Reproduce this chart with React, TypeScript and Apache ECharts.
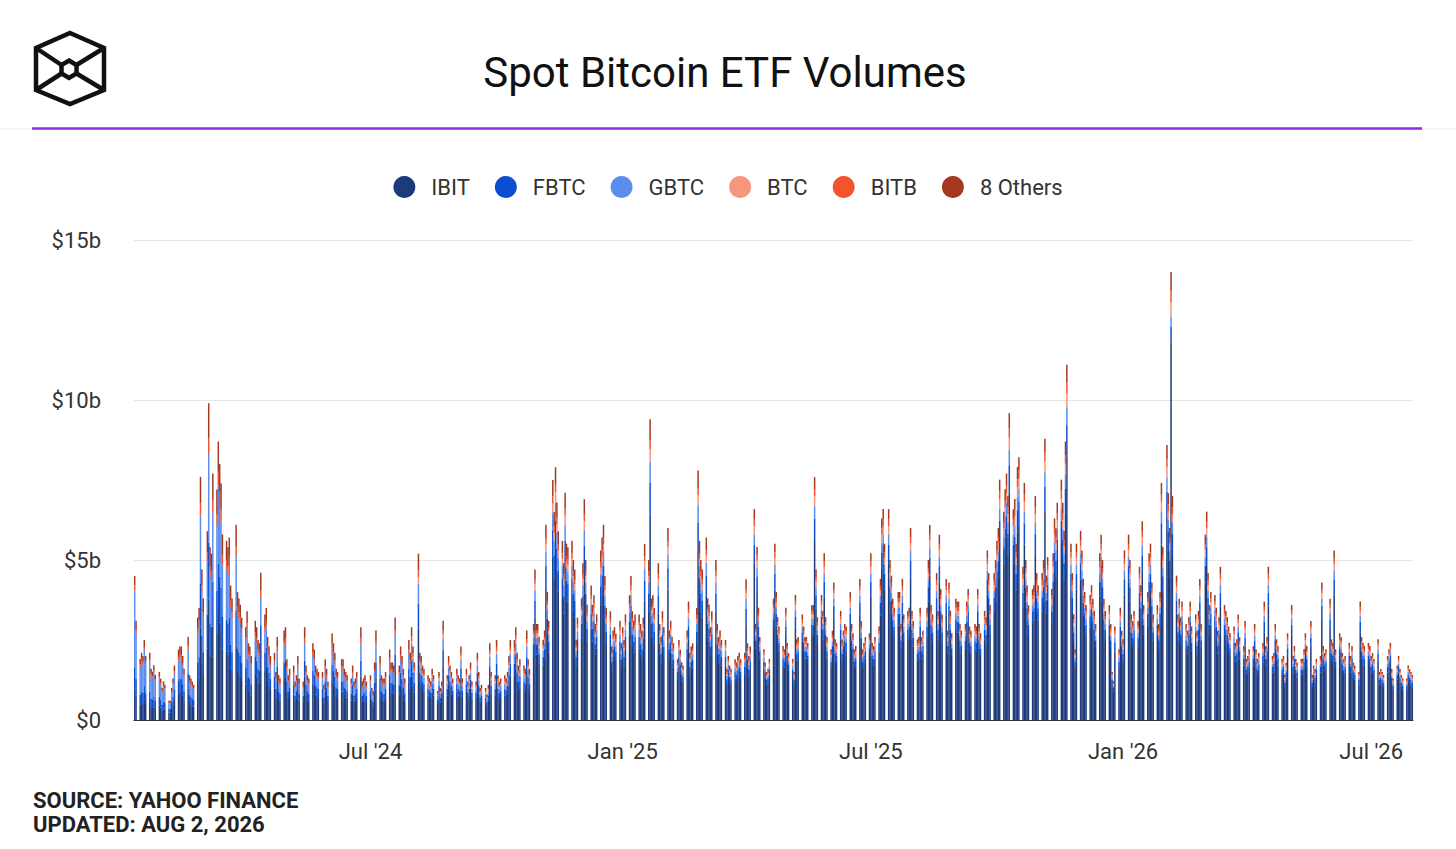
import React, { useEffect, useRef } from "react";
import * as echarts from "echarts";

// ---------- DATA (daily volumes, $ millions) ----------
// values are given for every weekday from 2024-01-11 to 2026-07-31
const FIRST_DAY = "2024-01-11";
const LAST_DAY = "2026-07-31";

const seriesNames = ["IBIT", "FBTC", "GBTC", "BTC", "BITB", "8 Others"];
const seriesColors = ["#1d3b7b", "#0b4fd0", "#5b8dee", "#f7967f", "#f4532c", "#a5381f"];

const yTicks = [0, 5000, 10000, 15000];
const xTickDates = ["2024-07-01", "2025-01-01", "2025-07-01", "2026-01-01", "2026-07-01"];
const xTickLabels = ["Jul '24", "Jan '25", "Jul '25", "Jan '26", "Jul '26"];

const IBIT = [
950, 770,
480, 530, 500, 630, 500,
530, 400, 380, 430, 350,
450, 390, 300, 360, 330,
230, 230, 380, 490, 650,
840, 870, 870, 760, 610,
990, 530, 490, 460, 420,
1220, 1330, 2890, 1790, 1440,
2240, 3760, 2050, 1980, 2930,
2740, 3310, 3040, 2810, 2200,
2130, 2050, 2170, 1600, 1440,
2320, 1520, 1440, 1370, 1220,
1100, 1290, 910, 870, 760,
1460, 1360, 1180, 1130, 2160,
1550, 1650, 1220, 1080, 940,
990, 710, 1220, 660, 610,
1320, 1360, 890, 660, 750,
800, 560, 660, 940, 610,
560, 1360, 800, 660, 610,
1130, 1030, 800, 750, 710,
710, 520, 890, 750, 560,
1270, 1130, 990, 750, 710,
890, 890, 750, 710, 660,
610, 800, 560, 610, 710,
1360, 560, 610, 660, 560,
660, 470, 420, 850, 1320,
940, 660, 610, 610, 710,
1030, 850, 850, 800, 1500,
800, 1080, 940, 750, 610,
1180, 990, 1360, 1080, 850,
2860, 1160, 1100, 940, 880,
770, 720, 660, 880, 770,
500, 830, 550, 660, 1710,
770, 1100, 940, 830, 720,
880, 770, 720, 1270, 720,
880, 660, 770, 990, 660,
660, 1160, 830, 550, 600,
550, 440, 600, 1320, 830,
770, 1380, 770, 660, 720,
770, 720, 830, 1100, 1380,
1380, 1600, 1160, 940, 1050,
940, 880, 1540, 1050, 880,
2040, 3200, 2040, 2040, 1770,
1700, 1900, 4150, 2720, 2110,
5100, 4420, 5370, 4620, 4010,
3810, 3330, 4830, 3740, 3670,
3810, 3400, 3200, 1700, 2180,
2580, 3330, 4690, 3400, 2450,
2860, 2450, 2650, 2040, 2240,
3600, 3880, 4150, 3060, 2380,
2310, 1560, 1900, 1970, 1840,
2110, 1630, 1970, 1700, 2240,
2650, 3060, 2310, 2110, 2240,
2240, 2040, 1900, 2180, 3740,
3400, 6390, 2580, 2650, 2380,
3330, 2040, 1770, 2310, 1970,
4080, 1900, 2110, 1770, 1630,
1290, 1700, 1500, 1220, 1160,
1900, 2520, 1430, 1560, 1630,
2380, 5300, 3810, 3400, 3200,
3880, 2580, 2450, 1970, 2310,
3400, 2040, 1770, 1900, 1700,
1700, 1090, 1360, 1160, 1090,
1290, 1220, 1360, 1430, 1290,
1430, 2990, 1630, 1360, 1560,
4880, 2220, 4000, 2590, 1920,
1630, 1330, 1110, 1180, 1410,
2810, 4070, 2960, 2370, 2150,
1700, 1630, 2590, 1780, 1550,
1410, 1110, 2890, 1850, 1920,
2440, 2150, 1920, 1920, 1780,
2660, 2660, 5620, 3480, 2370,
2890, 2520, 3850, 2370, 1920,
1630, 2070, 3180, 1850, 1780,
2520, 1850, 2070, 2220, 2150,
2960, 2220, 2000, 1630, 1700,
3260, 2290, 1630, 1780, 1920,
2000, 3850, 1780, 1700, 1920,
2150, 3260, 4660, 4880, 4070,
4880, 3700, 3330, 2810, 2590,
2960, 2960, 2220, 3260, 2440,
2520, 2590, 4440, 2520, 2290,
1850, 1920, 2590, 1920, 2070,
2590, 3700, 4510, 2660, 2440,
3400, 2520, 4290, 3030, 2440,
3260, 2070, 3180, 2520, 2000,
2810, 2740, 2740, 2220, 2070,
2220, 2740, 3030, 2150, 2070,
2220, 2150, 3030, 2220, 2000,
2520, 2370, 3920, 3400, 2660,
3400, 3700, 4140, 4440, 5550,
4810, 5330, 5700, 5180, 7100,
4880, 5110, 4070, 5850, 6070,
3550, 5480, 3700, 3110, 2660,
3030, 3110, 5180, 3400, 3110,
3400, 3700, 6510, 3330, 3770,
3030, 3850, 4660, 4440, 5030,
5550, 5030, 4370, 6440, 8210,
4070, 3400, 2440, 1630, 4070,
4370, 3920, 3260, 2960, 2660,
2890, 3110, 2810, 2520, 2220,
3850, 4290, 3700, 2810, 2520,
2660, 2220, 1110, 890, 2150,
1630, 2590, 2070, 1850, 3920,
4290, 3700, 2440, 2290, 2520,
2290, 3550, 3110, 4590, 2660,
2960, 3850, 4070, 3180, 2440,
2660, 2220, 2960, 5480, 4000,
6360, 5250, 4440, 11800, 5180,
3330, 2440, 2810, 2370, 2740,
2220, 2070, 2370, 2740, 2150,
2440, 2070, 2520, 3260, 2220,
4290, 4810, 3400, 2660, 2960,
2890, 2590, 2070, 2370, 3550,
2660, 2520, 2370, 2150, 2000,
2150, 1780, 1850, 2440, 1920,
1700, 2290, 1410, 1480, 1630,
1700, 2220, 1630, 1410, 1550,
1780, 2740, 1700, 1920, 3550,
1480, 1550, 2220, 1850, 1700,
1410, 1480, 1040, 1330, 2000,
2660, 1480, 1700, 1410, 1330,
1410, 1410, 1630, 2000, 1700,
2290, 1040, 1260, 1180, 1410,
1480, 3180, 1700, 1550, 1630,
2810, 1850, 1780, 3920, 1630,
2000, 1920, 1550, 1410, 1480,
1780, 1480, 1700, 1330, 1260,
1110, 2740, 1920, 1780, 1700,
1780, 1700, 1480, 1550, 1410,
1850, 1110, 1180, 1110, 1040,
1480, 1630, 1780, 1180, 960,
1260, 1480, 1180, 1040, 960,
960, 1260, 1180, 1110, 1040,
];

const FBTC = [
700, 520,
320, 360, 340, 430, 340,
360, 270, 260, 290, 240,
270, 230, 180, 220, 200,
110, 110, 180, 230, 310,
400, 410, 410, 360, 290,
470, 250, 230, 220, 200,
580, 630, 1370, 850, 680,
1060, 1780, 970, 940, 1390,
1300, 1570, 1440, 1330, 1040,
1010, 970, 1030, 760, 680,
1100, 720, 680, 650, 580,
520, 610, 430, 410, 360,
530, 490, 430, 410, 780,
560, 600, 440, 390, 340,
360, 260, 440, 240, 220,
480, 490, 320, 240, 270,
290, 200, 240, 340, 220,
200, 490, 290, 240, 220,
410, 370, 290, 270, 260,
260, 190, 320, 270, 200,
460, 410, 360, 270, 260,
320, 320, 270, 260, 240,
220, 290, 200, 220, 260,
490, 200, 220, 240, 200,
240, 170, 150, 310, 480,
340, 240, 220, 220, 260,
370, 310, 310, 290, 540,
290, 390, 340, 270, 220,
430, 360, 490, 390, 310,
780, 320, 300, 260, 240,
210, 200, 180, 240, 210,
140, 230, 150, 180, 470,
210, 300, 260, 230, 200,
240, 210, 200, 350, 200,
240, 180, 210, 270, 180,
180, 320, 230, 150, 170,
150, 120, 170, 360, 230,
210, 380, 210, 180, 200,
210, 200, 230, 300, 380,
380, 440, 320, 260, 290,
260, 240, 420, 290, 240,
330, 520, 330, 330, 290,
280, 310, 670, 440, 340,
830, 720, 870, 750, 650,
620, 540, 780, 610, 590,
620, 550, 520, 280, 350,
420, 540, 760, 550, 400,
460, 400, 430, 330, 360,
580, 630, 670, 500, 390,
370, 250, 310, 320, 300,
340, 260, 320, 280, 360,
430, 500, 370, 340, 360,
360, 330, 310, 350, 610,
550, 1030, 420, 430, 390,
540, 330, 290, 370, 320,
660, 310, 340, 290, 260,
210, 280, 240, 200, 190,
310, 410, 230, 250, 260,
390, 860, 620, 550, 520,
630, 420, 400, 320, 370,
550, 330, 290, 310, 280,
280, 180, 220, 190, 180,
210, 200, 220, 230, 210,
230, 480, 260, 220, 250,
590, 270, 490, 320, 230,
200, 160, 140, 140, 170,
340, 500, 360, 290, 260,
210, 200, 320, 220, 190,
170, 140, 350, 230, 230,
300, 260, 230, 230, 220,
320, 320, 680, 420, 290,
350, 310, 470, 290, 230,
200, 250, 390, 230, 220,
310, 230, 250, 270, 260,
360, 270, 240, 200, 210,
400, 280, 200, 220, 230,
240, 470, 220, 210, 230,
260, 400, 570, 590, 500,
590, 450, 410, 340, 320,
360, 360, 270, 400, 300,
310, 320, 540, 310, 280,
230, 230, 320, 230, 250,
320, 450, 550, 320, 300,
410, 310, 520, 370, 300,
400, 250, 390, 310, 240,
340, 330, 330, 270, 250,
270, 330, 370, 260, 250,
270, 260, 370, 270, 240,
310, 290, 480, 410, 320,
410, 450, 500, 540, 680,
590, 650, 690, 630, 860,
590, 620, 500, 710, 740,
430, 670, 450, 380, 320,
370, 380, 630, 410, 380,
410, 450, 790, 410, 460,
370, 470, 570, 540, 610,
680, 610, 530, 780, 1000,
500, 410, 300, 200, 500,
530, 480, 400, 360, 320,
350, 380, 340, 310, 270,
470, 520, 450, 340, 310,
320, 270, 140, 110, 260,
200, 320, 250, 230, 480,
520, 450, 300, 280, 310,
280, 430, 380, 560, 320,
360, 470, 500, 390, 300,
320, 270, 360, 670, 490,
770, 640, 540, 500, 630,
410, 300, 340, 290, 330,
270, 250, 290, 330, 260,
300, 250, 310, 400, 270,
520, 590, 410, 320, 360,
350, 320, 250, 290, 430,
320, 310, 290, 260, 240,
260, 220, 230, 300, 230,
210, 280, 170, 180, 200,
210, 270, 200, 170, 190,
220, 330, 210, 230, 430,
180, 190, 270, 230, 210,
170, 180, 130, 160, 240,
320, 180, 210, 170, 160,
170, 170, 200, 240, 210,
280, 130, 150, 140, 170,
180, 390, 210, 190, 200,
340, 230, 220, 480, 200,
240, 230, 190, 170, 180,
220, 180, 210, 160, 150,
140, 330, 230, 220, 210,
220, 210, 180, 190, 170,
230, 140, 140, 140, 130,
180, 200, 220, 140, 120,
150, 180, 140, 130, 120,
120, 150, 140, 140, 130,
];

const GBTC = [
2400, 1400,
860, 940, 900, 1120, 900,
940, 720, 680, 770, 630,
570, 490, 380, 460, 420,
170, 170, 280, 360, 480,
620, 640, 640, 560, 450,
730, 390, 360, 340, 310,
900, 980, 2130, 1320, 1060,
1650, 2770, 1510, 1460, 2160,
2020, 2440, 2240, 2070, 1620,
1570, 1510, 1600, 1180, 1060,
1710, 1120, 1060, 1010, 900,
810, 950, 670, 640, 560,
590, 550, 480, 460, 870,
630, 670, 490, 440, 380,
400, 290, 490, 270, 250,
530, 550, 360, 270, 300,
320, 230, 270, 380, 250,
230, 550, 320, 270, 250,
460, 420, 320, 300, 290,
290, 210, 360, 300, 230,
510, 460, 400, 300, 290,
360, 360, 300, 290, 270,
250, 320, 230, 250, 290,
550, 230, 250, 270, 230,
270, 190, 170, 340, 530,
380, 270, 250, 250, 290,
420, 340, 340, 320, 610,
320, 440, 380, 300, 250,
480, 400, 550, 440, 340,
620, 250, 240, 200, 190,
170, 160, 140, 190, 170,
110, 180, 120, 140, 370,
170, 240, 200, 180, 160,
190, 170, 160, 280, 160,
190, 140, 170, 220, 140,
140, 250, 180, 120, 130,
120, 100, 130, 290, 180,
170, 300, 170, 140, 160,
170, 160, 180, 240, 300,
300, 350, 250, 200, 230,
200, 190, 340, 230, 190,
210, 330, 210, 210, 180,
180, 200, 430, 280, 220,
530, 460, 550, 480, 410,
390, 340, 500, 390, 380,
390, 350, 330, 180, 220,
270, 340, 480, 350, 250,
290, 250, 270, 210, 230,
370, 400, 430, 320, 250,
240, 160, 200, 200, 190,
220, 170, 200, 180, 230,
270, 320, 240, 220, 230,
230, 210, 200, 220, 390,
350, 660, 270, 270, 250,
340, 210, 180, 240, 200,
420, 200, 220, 180, 170,
130, 180, 150, 130, 120,
200, 260, 150, 160, 170,
250, 550, 390, 350, 330,
400, 270, 250, 200, 240,
350, 210, 180, 200, 180,
180, 110, 140, 120, 110,
130, 130, 140, 150, 130,
150, 310, 170, 140, 160,
330, 150, 270, 180, 130,
110, 90, 80, 80, 100,
190, 280, 200, 160, 150,
120, 110, 180, 120, 110,
100, 80, 200, 130, 130,
170, 150, 130, 130, 120,
180, 180, 380, 240, 160,
200, 170, 260, 160, 130,
110, 140, 220, 130, 120,
170, 130, 140, 150, 150,
200, 150, 140, 110, 120,
220, 160, 110, 120, 130,
140, 260, 120, 120, 130,
150, 220, 320, 330, 280,
330, 250, 230, 190, 180,
200, 200, 150, 220, 170,
170, 180, 300, 170, 160,
130, 130, 180, 130, 140,
180, 250, 310, 180, 170,
230, 170, 290, 210, 170,
220, 140, 220, 170, 140,
190, 190, 190, 150, 140,
150, 190, 210, 150, 140,
150, 150, 210, 150, 140,
170, 160, 270, 230, 180,
230, 250, 280, 300, 380,
330, 360, 390, 350, 480,
330, 350, 280, 400, 410,
240, 370, 250, 210, 180,
210, 210, 350, 230, 210,
230, 250, 440, 230, 260,
210, 260, 320, 300, 340,
380, 340, 300, 440, 560,
280, 230, 170, 110, 280,
300, 270, 220, 200, 180,
200, 210, 190, 170, 150,
260, 290, 250, 190, 170,
180, 150, 80, 60, 150,
110, 180, 140, 130, 270,
290, 250, 170, 160, 170,
160, 240, 210, 310, 180,
200, 260, 280, 220, 170,
180, 150, 200, 370, 270,
430, 360, 300, 300, 350,
230, 170, 190, 160, 190,
150, 140, 160, 190, 150,
170, 140, 170, 220, 150,
290, 330, 230, 180, 200,
200, 180, 140, 160, 240,
180, 170, 160, 150, 140,
150, 120, 130, 170, 130,
120, 160, 100, 100, 110,
120, 150, 110, 100, 110,
120, 190, 120, 130, 240,
100, 110, 150, 130, 120,
100, 100, 70, 90, 140,
180, 100, 120, 100, 90,
100, 100, 110, 140, 120,
160, 70, 90, 80, 100,
100, 220, 120, 110, 110,
190, 130, 120, 270, 110,
140, 130, 110, 100, 100,
120, 100, 120, 90, 90,
80, 190, 130, 120, 120,
120, 120, 100, 110, 100,
130, 80, 80, 80, 70,
100, 110, 120, 80, 70,
90, 100, 80, 70, 70,
70, 90, 80, 80, 70,
];

const BTC = [
0, 0,
0, 0, 0, 0, 0,
0, 0, 0, 0, 0,
0, 0, 0, 0, 0,
0, 0, 0, 0, 0,
0, 0, 0, 0, 0,
0, 0, 0, 0, 0,
0, 0, 0, 0, 0,
0, 0, 0, 0, 0,
0, 0, 0, 0, 0,
0, 0, 0, 0, 0,
0, 0, 0, 0, 0,
0, 0, 0, 0, 0,
0, 0, 0, 0, 0,
0, 0, 0, 0, 0,
0, 0, 0, 0, 0,
0, 0, 0, 0, 0,
0, 0, 0, 0, 0,
0, 0, 0, 0, 0,
0, 0, 0, 0, 0,
0, 0, 0, 0, 0,
0, 0, 0, 0, 0,
0, 0, 0, 0, 0,
0, 0, 0, 0, 0,
0, 0, 0, 0, 0,
0, 0, 0, 0, 0,
0, 0, 0, 0, 0,
0, 0, 0, 0, 0,
0, 0, 0, 0, 0,
0, 0, 60, 50, 40,
210, 80, 80, 70, 60,
60, 50, 50, 60, 60,
40, 60, 40, 50, 120,
60, 80, 70, 60, 50,
60, 60, 50, 90, 50,
60, 50, 60, 70, 50,
50, 80, 60, 40, 40,
40, 30, 40, 100, 60,
60, 100, 60, 50, 50,
60, 50, 60, 80, 100,
100, 120, 80, 70, 80,
70, 60, 110, 80, 60,
120, 190, 120, 120, 100,
100, 110, 240, 160, 120,
300, 260, 320, 270, 240,
220, 200, 280, 220, 220,
220, 200, 190, 100, 130,
150, 200, 280, 200, 140,
170, 140, 160, 120, 130,
210, 230, 240, 180, 140,
140, 90, 110, 120, 110,
120, 100, 120, 100, 130,
160, 180, 140, 120, 130,
130, 120, 110, 130, 220,
200, 380, 150, 160, 140,
200, 120, 100, 140, 120,
240, 110, 120, 100, 100,
80, 100, 90, 70, 70,
110, 150, 80, 90, 100,
140, 310, 220, 200, 190,
230, 150, 140, 120, 140,
200, 120, 100, 110, 100,
100, 60, 80, 70, 60,
80, 70, 80, 80, 80,
80, 180, 100, 80, 90,
260, 120, 220, 140, 100,
90, 70, 60, 60, 80,
150, 220, 160, 130, 120,
90, 90, 140, 100, 80,
80, 60, 160, 100, 100,
130, 120, 100, 100, 100,
140, 140, 300, 190, 130,
160, 140, 210, 130, 100,
90, 110, 170, 100, 100,
140, 100, 110, 120, 120,
160, 120, 110, 90, 90,
180, 120, 90, 100, 100,
110, 210, 100, 90, 100,
120, 180, 250, 260, 220,
260, 200, 180, 150, 140,
160, 160, 120, 180, 130,
140, 140, 240, 140, 120,
100, 100, 140, 100, 110,
140, 200, 240, 140, 130,
180, 140, 230, 160, 130,
180, 110, 170, 140, 110,
150, 150, 150, 120, 110,
120, 150, 160, 120, 110,
120, 120, 160, 120, 110,
140, 130, 210, 180, 140,
180, 200, 220, 240, 300,
260, 290, 310, 280, 380,
260, 280, 220, 320, 330,
190, 300, 200, 170, 140,
160, 170, 280, 180, 170,
180, 200, 350, 180, 200,
160, 210, 250, 240, 270,
300, 270, 240, 350, 440,
220, 180, 130, 90, 220,
240, 210, 180, 160, 140,
160, 170, 150, 140, 120,
210, 230, 200, 150, 140,
140, 120, 60, 50, 120,
90, 140, 110, 100, 210,
230, 200, 130, 120, 140,
120, 190, 170, 250, 140,
160, 210, 220, 170, 130,
140, 120, 160, 300, 220,
340, 280, 240, 450, 280,
180, 130, 150, 130, 150,
120, 110, 130, 150, 120,
130, 110, 140, 180, 120,
230, 260, 180, 140, 160,
160, 140, 110, 130, 190,
140, 140, 130, 120, 110,
120, 100, 100, 130, 100,
90, 120, 80, 80, 90,
90, 120, 90, 80, 80,
100, 150, 90, 100, 190,
80, 80, 120, 100, 90,
80, 80, 60, 70, 110,
140, 80, 90, 80, 70,
80, 80, 90, 110, 90,
120, 60, 70, 60, 80,
80, 170, 90, 80, 90,
150, 100, 100, 210, 90,
110, 100, 80, 80, 80,
100, 80, 90, 70, 70,
60, 150, 100, 100, 90,
100, 90, 80, 80, 80,
100, 60, 60, 60, 60,
80, 90, 100, 60, 50,
70, 80, 60, 60, 50,
50, 70, 60, 60, 60,
];

const BITB = [
150, 120,
80, 80, 80, 100, 80,
80, 60, 60, 70, 60,
60, 50, 40, 50, 40,
30, 30, 50, 70, 80,
110, 120, 120, 100, 80,
130, 70, 70, 60, 60,
160, 180, 380, 240, 190,
300, 500, 270, 260, 390,
360, 440, 400, 370, 290,
280, 270, 290, 210, 190,
310, 200, 190, 180, 160,
150, 170, 120, 120, 100,
160, 150, 130, 120, 230,
170, 180, 130, 120, 100,
110, 80, 130, 70, 70,
140, 150, 100, 70, 80,
90, 60, 70, 100, 70,
60, 150, 90, 70, 70,
120, 110, 90, 80, 70,
70, 50, 100, 80, 60,
140, 120, 110, 80, 70,
100, 100, 80, 70, 70,
70, 90, 60, 70, 70,
150, 60, 70, 70, 60,
70, 50, 50, 90, 140,
100, 70, 70, 70, 70,
110, 90, 90, 90, 160,
90, 120, 100, 80, 70,
130, 110, 150, 120, 90,
210, 80, 80, 70, 60,
60, 50, 50, 60, 60,
40, 60, 40, 50, 120,
60, 80, 70, 60, 50,
60, 60, 50, 90, 50,
60, 50, 60, 70, 50,
50, 80, 60, 40, 40,
40, 30, 40, 100, 60,
60, 100, 60, 50, 50,
60, 50, 60, 80, 100,
100, 120, 80, 70, 80,
70, 60, 110, 80, 60,
90, 140, 90, 90, 80,
80, 80, 180, 120, 90,
230, 200, 240, 200, 180,
170, 150, 210, 170, 160,
170, 150, 140, 80, 100,
110, 150, 210, 150, 110,
130, 110, 120, 90, 100,
160, 170, 180, 140, 110,
100, 70, 80, 90, 80,
90, 70, 90, 80, 100,
120, 140, 100, 90, 100,
100, 90, 80, 100, 160,
150, 280, 110, 120, 100,
150, 90, 80, 100, 90,
180, 80, 90, 80, 70,
60, 70, 70, 50, 50,
80, 110, 60, 70, 70,
110, 230, 170, 150, 140,
170, 110, 110, 90, 100,
150, 90, 80, 80, 80,
80, 50, 60, 50, 50,
60, 50, 60, 60, 60,
60, 130, 70, 60, 70,
200, 90, 160, 110, 80,
70, 50, 40, 50, 60,
110, 170, 120, 100, 90,
70, 70, 110, 70, 60,
60, 40, 120, 80, 80,
100, 90, 80, 80, 70,
110, 110, 230, 140, 100,
120, 100, 160, 100, 80,
70, 80, 130, 80, 70,
100, 80, 80, 90, 90,
120, 90, 80, 70, 70,
130, 90, 70, 70, 80,
80, 160, 70, 70, 80,
90, 130, 190, 200, 170,
200, 150, 140, 110, 110,
120, 120, 90, 130, 100,
100, 110, 180, 100, 90,
80, 80, 110, 80, 80,
110, 150, 180, 110, 100,
140, 100, 170, 120, 100,
130, 80, 130, 100, 80,
110, 110, 110, 90, 80,
90, 110, 120, 90, 80,
90, 90, 120, 90, 80,
100, 100, 160, 140, 110,
140, 150, 170, 180, 230,
200, 220, 230, 210, 290,
200, 210, 170, 240, 250,
140, 220, 150, 130, 110,
120, 130, 210, 140, 130,
140, 150, 260, 140, 150,
120, 160, 190, 180, 200,
230, 200, 180, 260, 330,
170, 140, 100, 70, 170,
180, 160, 130, 120, 110,
120, 130, 110, 100, 90,
160, 170, 150, 110, 100,
110, 90, 40, 40, 90,
70, 110, 80, 80, 160,
170, 150, 100, 90, 100,
90, 140, 130, 190, 110,
120, 160, 170, 130, 100,
110, 90, 120, 220, 160,
260, 210, 180, 350, 210,
140, 100, 110, 100, 110,
90, 80, 100, 110, 90,
100, 80, 100, 130, 90,
170, 200, 140, 110, 120,
120, 110, 80, 100, 140,
110, 100, 100, 90, 80,
90, 70, 80, 100, 80,
70, 90, 60, 60, 70,
70, 90, 70, 60, 60,
70, 110, 70, 80, 140,
60, 60, 90, 80, 70,
60, 60, 40, 50, 80,
110, 60, 70, 60, 50,
60, 60, 70, 80, 70,
90, 40, 50, 50, 60,
60, 130, 70, 60, 70,
110, 80, 70, 160, 70,
80, 80, 60, 60, 60,
70, 60, 70, 50, 50,
40, 110, 80, 70, 70,
70, 70, 60, 60, 60,
80, 40, 50, 40, 40,
60, 70, 70, 50, 40,
50, 60, 50, 40, 40,
40, 50, 50, 40, 40,
];

const OTHERS = [
300, 290,
170, 190, 180, 220, 180,
190, 150, 130, 150, 130,
150, 130, 100, 120, 110,
60, 60, 110, 150, 180,
230, 260, 260, 220, 170,
280, 160, 150, 120, 110,
340, 380, 830, 500, 430,
650, 1090, 600, 560, 830,
780, 940, 880, 820, 650,
610, 600, 610, 450, 430,
660, 440, 430, 390, 340,
320, 380, 270, 260, 220,
360, 350, 280, 280, 560,
390, 400, 320, 270, 240,
240, 160, 320, 160, 150,
330, 350, 230, 160, 200,
200, 150, 160, 240, 150,
150, 350, 200, 160, 150,
280, 270, 200, 200, 170,
170, 130, 230, 200, 150,
320, 280, 240, 200, 170,
230, 230, 200, 170, 160,
150, 200, 150, 150, 170,
350, 150, 150, 160, 150,
160, 120, 110, 210, 330,
240, 160, 150, 150, 170,
270, 210, 210, 200, 390,
200, 270, 240, 200, 150,
280, 240, 290, 220, 170,
520, 210, 200, 160, 170,
130, 120, 120, 170, 130,
70, 140, 100, 120, 310,
130, 200, 160, 140, 120,
170, 130, 120, 220, 120,
170, 120, 130, 180, 120,
120, 210, 140, 100, 120,
100, 80, 120, 230, 140,
130, 240, 130, 120, 120,
130, 120, 140, 200, 240,
240, 270, 210, 160, 170,
160, 170, 280, 170, 170,
210, 320, 210, 210, 180,
170, 200, 430, 280, 220,
510, 440, 550, 480, 410,
390, 340, 500, 380, 380,
390, 350, 320, 160, 220,
270, 340, 480, 350, 250,
290, 250, 270, 210, 240,
380, 390, 430, 300, 230,
240, 170, 200, 200, 180,
220, 170, 200, 160, 240,
270, 300, 240, 220, 240,
240, 210, 200, 220, 380,
350, 660, 270, 270, 240,
340, 210, 180, 240, 200,
420, 200, 220, 180, 170,
130, 170, 150, 130, 110,
200, 250, 150, 170, 170,
230, 550, 390, 350, 320,
390, 270, 250, 200, 240,
350, 210, 180, 200, 160,
160, 110, 140, 110, 110,
130, 130, 140, 150, 130,
150, 310, 170, 140, 170,
330, 150, 270, 170, 130,
110, 90, 70, 80, 90,
190, 270, 200, 160, 150,
120, 110, 170, 120, 100,
90, 70, 190, 130, 130,
160, 150, 130, 130, 120,
180, 180, 380, 230, 160,
190, 170, 260, 160, 130,
110, 140, 210, 130, 120,
170, 130, 140, 150, 150,
200, 150, 140, 110, 120,
220, 150, 110, 120, 130,
140, 260, 120, 120, 130,
150, 220, 310, 330, 270,
330, 250, 220, 190, 170,
200, 200, 150, 220, 160,
170, 170, 300, 170, 150,
130, 130, 170, 130, 140,
170, 250, 300, 180, 160,
230, 170, 290, 200, 160,
220, 140, 210, 170, 140,
190, 180, 180, 150, 140,
150, 180, 200, 150, 140,
150, 150, 200, 150, 140,
170, 160, 260, 230, 180,
230, 250, 280, 300, 370,
320, 360, 380, 350, 480,
330, 340, 270, 390, 410,
240, 370, 250, 210, 180,
200, 210, 350, 230, 210,
230, 250, 440, 220, 250,
200, 260, 310, 300, 340,
370, 340, 290, 430, 560,
270, 230, 160, 110, 270,
290, 260, 220, 200, 180,
190, 210, 190, 170, 150,
260, 290, 250, 190, 170,
180, 150, 70, 60, 150,
110, 170, 140, 130, 260,
290, 250, 160, 150, 170,
150, 240, 210, 310, 180,
200, 260, 270, 210, 160,
180, 150, 200, 370, 270,
430, 350, 300, 600, 350,
220, 160, 190, 160, 180,
150, 140, 160, 180, 150,
160, 140, 170, 220, 150,
290, 320, 230, 180, 200,
190, 170, 140, 160, 240,
180, 170, 160, 150, 140,
150, 120, 130, 160, 130,
120, 150, 90, 100, 110,
120, 150, 110, 90, 100,
120, 180, 120, 130, 240,
100, 100, 150, 130, 120,
90, 100, 70, 90, 140,
180, 100, 120, 90, 90,
90, 90, 110, 140, 120,
150, 70, 80, 80, 90,
100, 210, 120, 100, 110,
190, 130, 120, 260, 110,
140, 130, 100, 90, 100,
120, 100, 120, 90, 80,
70, 180, 130, 120, 120,
120, 120, 100, 100, 90,
130, 70, 80, 70, 70,
100, 110, 120, 80, 60,
80, 100, 80, 70, 60,
60, 80, 80, 70, 70,
];

const seriesValues = [IBIT, FBTC, GBTC, BTC, BITB, OTHERS];

// ---------- helpers ----------
const DAY = 86400000;
function utc(s: string) {
  const [y, m, d] = s.split("-").map(Number);
  return Date.UTC(y, m - 1, d);
}
function iso(t: number) {
  return new Date(t).toISOString().slice(0, 10);
}
// every calendar day (category axis) and a flag for weekdays
function calendar(): { day: string; weekday: boolean }[] {
  const out: { day: string; weekday: boolean }[] = [];
  for (let t = utc(FIRST_DAY); t <= utc(LAST_DAY); t += DAY) {
    const wd = new Date(t).getUTCDay();
    out.push({ day: iso(t), weekday: wd !== 0 && wd !== 6 });
  }
  return out;
}

const FONT = "Roboto, 'Noto Sans', sans-serif";

export default function App() {
  const ref = useRef<HTMLDivElement>(null);

  useEffect(() => {
    if (!ref.current) return;
    const chart = echarts.init(ref.current, undefined, { renderer: "svg" });
    const cal = calendar();
    const categories = cal.map((c) => c.day);

    const series = seriesNames.map((name, k) => {
      const vals = seriesValues[k];
      let j = 0;
      const data = cal.map((c) => (c.weekday ? vals[j++] ?? 0 : "-"));
      return {
        name,
        type: "bar",
        stack: "vol",
        barWidth: 1.5,
        itemStyle: { color: seriesColors[k] },
        emphasis: { disabled: true },
        data,
      };
    });

    const st = { stroke: "#111", lineWidth: 4.5, fill: "none", lineJoin: "miter" };

    chart.setOption({
      animation: false,
      backgroundColor: "#ffffff",
      textStyle: { fontFamily: FONT },
      legend: {
        left: "center",
        top: 171,
        icon: "circle",
        itemWidth: 22,
        itemHeight: 22,
        itemGap: 25,
        selectedMode: false,
        data: seriesNames,
        textStyle: { fontSize: 22, color: "#333", fontFamily: FONT, padding: [0, 0, 0, 11] },
      },
      grid: { left: 134, right: 43, top: 240, bottom: 129, containLabel: false },
      xAxis: {
        type: "category",
        data: categories,
        boundaryGap: true,
        axisLine: { show: true, lineStyle: { color: "#333", width: 1.2 } },
        axisTick: { show: false },
        splitLine: { show: false },
        axisLabel: {
          interval: (_i: number, v: string) => xTickDates.includes(v),
          fontSize: 22,
          color: "#333",
          fontFamily: FONT,
          margin: 20,
          formatter: (v: string) => {
            const i = xTickDates.indexOf(v);
            return i >= 0 ? xTickLabels[i] : "";
          },
        },
      },
      yAxis: {
        type: "value",
        min: yTicks[0],
        max: yTicks[yTicks.length - 1],
        interval: 5000,
        axisLine: { show: false },
        axisTick: { show: false },
        splitLine: { show: true, lineStyle: { color: "#e6e6e6", width: 1 } },
        axisLabel: {
          fontSize: 22,
          color: "#333",
          fontFamily: FONT,
          margin: 33,
          formatter: (v: number) => (v === 0 ? "$0" : `$${v / 1000}b`),
        },
      },
      graphic: [
        { type: "line", shape: { x1: 0, y1: 129, x2: 1456, y2: 129 }, style: { stroke: "#ececec", lineWidth: 1 } },
        { type: "line", shape: { x1: 32, y1: 128.5, x2: 1422, y2: 128.5 }, style: { stroke: "#8d2fe0", lineWidth: 2.5 } },
        { type: "polygon", shape: { points: [[70, 33], [104, 48], [104, 90], [70, 104], [36, 90], [36, 48]] }, style: st },
        { type: "polygon", shape: { points: [[69, 60.5], [76.5, 65], [76.5, 73.5], [69, 78], [61.5, 73.5], [61.5, 65]] }, style: st },
        { type: "line", shape: { x1: 36, y1: 48, x2: 61.5, y2: 65 }, style: st },
        { type: "line", shape: { x1: 104, y1: 48, x2: 76.5, y2: 65 }, style: st },
        { type: "line", shape: { x1: 36, y1: 90, x2: 61.5, y2: 73.5 }, style: st },
        { type: "line", shape: { x1: 104, y1: 90, x2: 76.5, y2: 73.5 }, style: st },
        {
          type: "text",
          x: 725,
          y: 72,
          style: {
            text: "Spot Bitcoin ETF Volumes",
            font: `42px ${FONT}`,
            fill: "#111",
            textAlign: "center",
            textVerticalAlign: "middle",
          },
        },
        {
          type: "text",
          x: 33,
          y: 800,
          style: { text: "SOURCE: YAHOO FINANCE", font: `bold 22px ${FONT}`, fill: "#222", textAlign: "left", textVerticalAlign: "middle" },
        },
        {
          type: "text",
          x: 33,
          y: 824.5,
          style: { text: "UPDATED: AUG 2, 2026", font: `bold 22px ${FONT}`, fill: "#222", textAlign: "left", textVerticalAlign: "middle" },
        },
      ],
      series,
    });

    return () => chart.dispose();
  }, []);

  return (
    <div
      ref={ref}
      style={{ position: "fixed", left: 0, top: 0, width: 1456, height: 849, background: "#fff" }}
    />
  );
}
